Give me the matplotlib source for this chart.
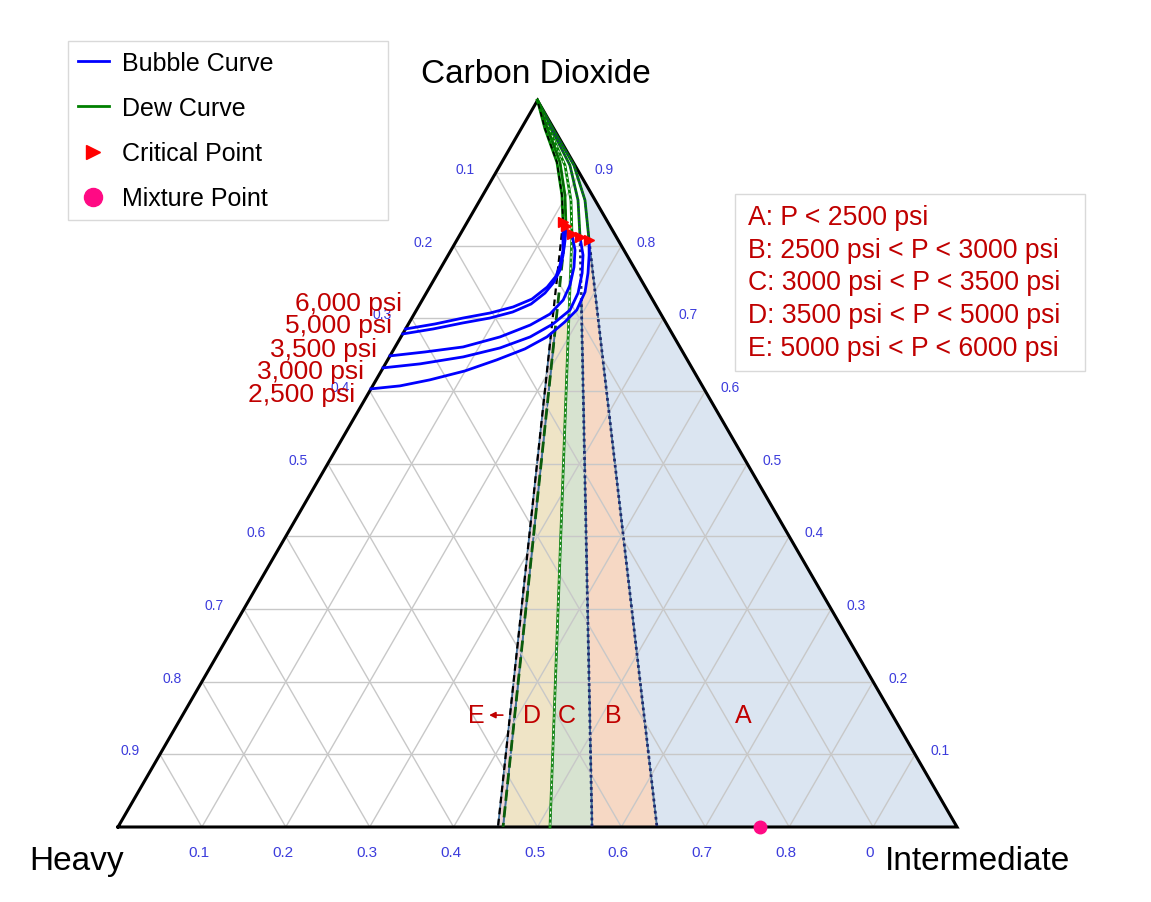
import numpy as np
import matplotlib.pyplot as plt
from matplotlib.lines import Line2D
from matplotlib.patches import Polygon, Rectangle

plt.rcParams['font.family'] = ['Liberation Sans', 'DejaVu Sans']

H = np.sqrt(3) / 2
RED = '#c00000'
TICK_BLUE = '#3c3cdc'

# compositions are (CO2, intermediate) mole fractions, heavy = 1 - CO2 - intermediate
pressure_labels = ['2,500 psi', '3,000 psi', '3,500 psi', '5,000 psi', '6,000 psi']

# bubble curves, from the CO2-heavy edge up to the critical point
bubble_co2_2500 = [0.603, 0.6071, 0.6154, 0.6277, 0.6429, 0.658, 0.6745, 0.6951, 0.7115, 0.7363, 0.7624, 0.7871, 0.8077]
bubble_int_2500 = [0.0, 0.0325, 0.064, 0.0997, 0.130, 0.156, 0.174, 0.185, 0.191, 0.1885, 0.179, 0.168, 0.1576]
bubble_co2_3000 = [0.6319, 0.6374, 0.647, 0.6593, 0.6745, 0.6923, 0.7115, 0.7349, 0.7624, 0.7871, 0.8118]
bubble_int_3000 = [0.0, 0.0413, 0.088, 0.1256, 0.154, 0.1723, 0.183, 0.1809, 0.172, 0.1607, 0.1448]
bubble_co2_3500 = [0.6484, 0.6538, 0.6607, 0.6745, 0.6909, 0.706, 0.7253, 0.7459, 0.7706, 0.794, 0.8159]
bubble_int_3500 = [0.0, 0.039, 0.081, 0.1181, 0.146, 0.1619, 0.168, 0.1658, 0.1582, 0.1477, 0.1331]
bubble_co2_5000 = [0.6786, 0.6854, 0.6937, 0.7005, 0.7088, 0.7198, 0.7349, 0.75, 0.7665, 0.7871, 0.8077, 0.8269]
bubble_int_5000 = [0.0, 0.0327, 0.064, 0.0931, 0.116, 0.1324, 0.1415, 0.1447, 0.1436, 0.1369, 0.129, 0.1205]
bubble_co2_6000 = [0.6854, 0.6923, 0.7005, 0.7074, 0.7157, 0.7266, 0.7431, 0.7582, 0.7734, 0.794, 0.8146, 0.8324]
bubble_int_6000 = [0.0, 0.0316, 0.061, 0.0897, 0.113, 0.1301, 0.140, 0.143, 0.1401, 0.1334, 0.1231, 0.1142]

# dew curves, from the critical point up to pure CO2
dew_co2_2500 = [0.8077, 0.8626, 0.9107, 0.9588, 1.0]
dew_int_2500 = [0.1576, 0.1253, 0.0881, 0.040, 0.0]
dew_co2_3000 = [0.8118, 0.8626, 0.9107, 0.9588, 1.0]
dew_int_3000 = [0.1448, 0.117, 0.0833, 0.038, 0.0]
dew_co2_3500 = [0.8159, 0.8626, 0.9107, 0.9588, 1.0]
dew_int_3500 = [0.1331, 0.1086, 0.0774, 0.035, 0.0]
dew_co2_5000 = [0.8269, 0.8695, 0.9148, 0.9615, 1.0]
dew_int_5000 = [0.1205, 0.098, 0.0694, 0.031, 0.0]
dew_co2_6000 = [0.8324, 0.8695, 0.9148, 0.9615, 1.0]
dew_int_6000 = [0.1142, 0.0944, 0.0658, 0.028, 0.0]

crit_co2 = [0.8077, 0.8118, 0.8159, 0.8269, 0.8324]
crit_int = [0.1576, 0.1448, 0.1331, 0.1205, 0.1142]

# limiting tie lines run from the critical point to the CO2-free base
tie_base_int = [0.6424, 0.5650, 0.5149, 0.4589, 0.4529]

mix_co2 = 0.0
mix_int = 0.765

region_notes = ['A: P < 2500 psi',
                'B: 2500 psi < P < 3000 psi',
                'C: 3000 psi < P < 3500 psi',
                'D: 3500 psi < P < 5000 psi',
                'E: 5000 psi < P < 6000 psi']
region_colors = ['#dbe5f1', '#f6d8c4', '#d7e3d0', '#efe4c6', '#f2d6d6']

bottom_ticks = ['0.1', '0.2', '0.3', '0.4', '0.5', '0.6', '0.7', '0.8', '0']

bubble_co2 = [bubble_co2_2500, bubble_co2_3000, bubble_co2_3500, bubble_co2_5000, bubble_co2_6000]
bubble_int = [bubble_int_2500, bubble_int_3000, bubble_int_3500, bubble_int_5000, bubble_int_6000]
dew_co2 = [dew_co2_2500, dew_co2_3000, dew_co2_3500, dew_co2_5000, dew_co2_6000]
dew_int = [dew_int_2500, dew_int_3000, dew_int_3500, dew_int_5000, dew_int_6000]


def xy(co2, inter):
    co2 = np.asarray(co2, dtype=float)
    inter = np.asarray(inter, dtype=float)
    return inter + co2 / 2, co2 * H


def pts(co2, inter):
    x, y = xy(co2, inter)
    return np.column_stack([np.atleast_1d(x), np.atleast_1d(y)])


fig = plt.figure(figsize=(11.51, 9.03), dpi=100)
ax = fig.add_axes([0, 0, 1, 1])
ax.set_xlim(-118 / 839, 1033 / 839)
ax.set_ylim(-75 / 839, 828 / 839)
ax.axis('off')

# grid
for k in range(1, 10):
    f = k / 10
    kw = dict(color='#c8c8c8', lw=1, zorder=2)
    ax.plot(*xy([f, f], [0, 1 - f]), **kw)
    ax.plot(*xy([0, 1 - f], [f, f]), **kw)
    ax.plot(*xy([0, 1 - f], [1 - f, 0]), **kw)

# region A: right of the 2500 psi tie line
poly_a = np.vstack([pts(0, tie_base_int[0]),
                    pts(dew_co2_2500[:3], dew_int_2500[:3]),
                    pts(dew_co2_2500[2], 1 - dew_co2_2500[2]),
                    pts(0, 1)])
ax.add_patch(Polygon(poly_a, closed=True, facecolor=region_colors[0],
                     edgecolor='#41719c', lw=1.3, zorder=1))

# regions B-E lie between neighbouring tie lines, under the 2500 psi bubble curve
clip_pts = np.vstack([pts(0, 0), pts(bubble_co2_2500, bubble_int_2500),
                      pts(0, tie_base_int[0])])
clip = Polygon(clip_pts, closed=True, transform=ax.transData)
for j in range(1, 5):
    strip = np.vstack([pts(0, tie_base_int[j]), pts(crit_co2[j], crit_int[j]),
                       pts(crit_co2[j - 1], crit_int[j - 1]), pts(0, tie_base_int[j - 1])])
    p = Polygon(strip, closed=True, facecolor=region_colors[j],
                edgecolor='#41719c', lw=1.3, zorder=1)
    ax.add_patch(p)
    p.set_clip_path(clip)

# triangle outline
ax.plot(*xy([0, 0, 1, 0], [0, 1, 0, 0]), color='black', lw=2.2, zorder=3,
        solid_joinstyle='miter')

# pressure-specific line styles for dew curves and limiting tie lines
styles = [dict(color='#1f2a6e', ls=(0, (1, 1.2)), lw=2),
          dict(color='#1f2a6e', ls=(0, (1, 1.2)), lw=2),
          dict(color='#1a8a1a', ls='-', lw=2),
          dict(color='#0b5d0b', ls=(0, (4, 2)), lw=2),
          dict(color='black', ls=(0, (3, 2)), lw=1.6)]

for j in range(5):
    tx, ty = xy([crit_co2[j], 0], [crit_int[j], tie_base_int[j]])
    ax.plot(tx, ty, zorder=4, **styles[j])
    if j == 2:
        ax.plot(tx, ty, color='white', lw=0.8, ls=(0, (2, 3)), zorder=4)

for j in range(5):
    dx, dy = xy(dew_co2[j], dew_int[j])
    ax.plot(dx, dy, color='#008000', lw=2, zorder=5)
    if j != 2:
        ax.plot(dx, dy, zorder=5, **dict(styles[j], lw=1.2))
    else:
        ax.plot(dx, dy, color='white', lw=0.8, ls=(0, (2, 3)), zorder=5)

for j in range(5):
    ax.plot(*xy(bubble_co2[j], bubble_int[j]), color='#0000ff', lw=2, zorder=6)

ax.plot(*xy(crit_co2, crit_int), ls='none', marker='>', color='#ff0000',
        ms=6.5, zorder=7)
ax.plot(*xy(mix_co2, mix_int), ls='none', marker='o', color='#ff0a84',
        ms=9, zorder=7)

# pressure labels next to the bubble curve ends
label_offsets = [(-16, -5), (-19, -3), (-13, 7), (-11, 9), (-4, 26)]
for j in range(5):
    ax.annotate(pressure_labels[j], xy=xy(bubble_co2[j][0], bubble_int[j][0]),
                xytext=label_offsets[j], textcoords='offset pixels',
                ha='right', va='center', fontsize=19, color=RED, zorder=9)

# axis tick labels
for k in range(1, 10):
    f = k / 10
    ax.annotate(f'{f:.1f}', xy=xy(1 - f, 0), xytext=(-30, 4),
                textcoords='offset pixels', ha='center', va='center',
                fontsize=10, color=TICK_BLUE, zorder=8)
    ax.annotate(f'{f:.1f}', xy=xy(f, 1 - f), xytext=(25, 4),
                textcoords='offset pixels', ha='center', va='center',
                fontsize=10, color=TICK_BLUE, zorder=8)
    ax.annotate(bottom_ticks[k - 1], xy=xy(0, f), xytext=(-3, -25),
                textcoords='offset pixels', ha='center', va='center',
                fontsize=11, color=TICK_BLUE, zorder=8,
                family=['Liberation Sans Narrow', 'Liberation Sans'])

# vertex names
ax.annotate('Carbon Dioxide', xy=xy(1, 0), xytext=(-2, 27), textcoords='offset pixels',
            ha='center', va='center', fontsize=24)
ax.annotate('Heavy', xy=xy(0, 0), xytext=(-41, -34), textcoords='offset pixels',
            ha='center', va='center', fontsize=24)
ax.annotate('Intermediate', xy=xy(0, 1), xytext=(20, -34), textcoords='offset pixels',
            ha='center', va='center', fontsize=24)

# region letters
letter_y = 0.154
ax.text(*xy(letter_y, 0.668), 'A', ha='center', va='center', fontsize=18, color=RED, zorder=9)
ax.text(*xy(letter_y, 0.513), 'B', ha='center', va='center', fontsize=18, color=RED, zorder=9)
ax.text(*xy(letter_y, 0.458), 'C', ha='center', va='center', fontsize=18, color=RED, zorder=9)
ax.text(*xy(letter_y, 0.416), 'D', ha='center', va='center', fontsize=18, color=RED, zorder=9)
ax.text(*xy(letter_y, 0.350), 'E', ha='center', va='center', fontsize=18, color=RED, zorder=9)
ax.annotate('', xy=xy(letter_y, 0.362), xytext=xy(letter_y, 0.385),
            arrowprops=dict(arrowstyle='-|>', color=RED, lw=1.2, mutation_scale=9),
            zorder=9)

# pressure range box
ax.add_patch(Rectangle((735 / 1151, 1 - 372 / 903), 350 / 1151, 177 / 903,
                       transform=ax.transAxes, facecolor='white',
                       edgecolor='#d9d9d9', lw=1, zorder=8))
ax.text(748 / 1151, 1 - 283.5 / 903, '\n'.join(region_notes), transform=ax.transAxes,
        ha='left', va='center', fontsize=19.2, color=RED, linespacing=1.33, zorder=9)

handles = [Line2D([], [], color='#0000ff', lw=2),
           Line2D([], [], color='#008000', lw=2),
           Line2D([], [], ls='none', marker='>', color='#ff0000', ms=10),
           Line2D([], [], ls='none', marker='o', color='#ff0a84', ms=13)]
leg = ax.legend(handles, ['Bubble Curve', 'Dew Curve', 'Critical Point', 'Mixture Point'],
                loc='upper left', bbox_to_anchor=(68 / 1151, 1 - 220 / 903, 320 / 1151, 178 / 903),
                bbox_transform=fig.transFigure, mode='expand', frameon=True,
                fancybox=False, edgecolor='#d0d0d0', fontsize=18, handlelength=1.25,
                handletextpad=0.5, labelspacing=0.85, borderpad=0.39, borderaxespad=0)
leg.get_frame().set_linewidth(1)
leg.set_zorder(10)

fig.savefig('out.png', dpi=100, facecolor='white')
